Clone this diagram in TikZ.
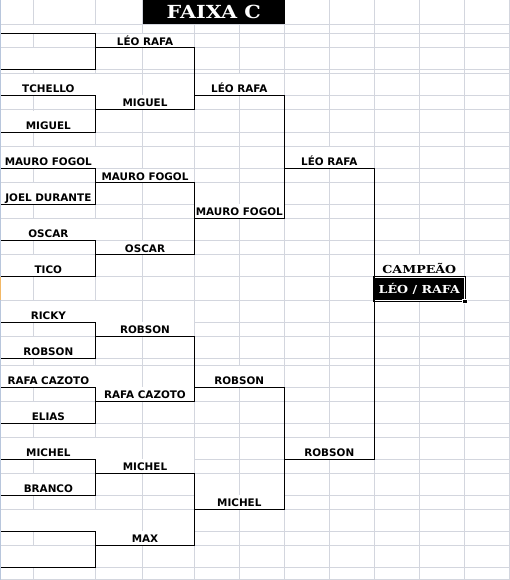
\documentclass[tikz,border=0pt]{standalone}
\usepackage{fontspec}
\newfontfamily\namefont{DejaVu Sans}
\newfontfamily\campfont[FakeStretch=1.15]{DejaVu Serif}
\usepackage{tikz}
\usetikzlibrary{positioning}
\definecolor{GridGray}  {HTML}{D3D6DE}
\definecolor{EdgeBlue}  {HTML}{B8C6DC}
\definecolor{MarkOrange}{HTML}{F2B866}

\begin{document}
\begin{tikzpicture}[x=1pt,y=-1pt,
  cell/.style={fill=white,inner sep=0pt,outer sep=0pt,anchor=south,
    text depth=2.5pt,font=\namefont\bfseries\fontsize{10.4}{12}\selectfont},
  tall/.style={text height=18.6pt},
  short/.style={text height=11.4pt},
  tiny/.style={text height=6pt},
  rA/.style={cell,minimum width=94.7pt},
  rB/.style={cell,minimum width=98.6pt},
  rC/.style={cell,minimum width=90pt},
  bracket/.style={draw=black,line width=0.8pt},
  gridline/.style={draw=GridGray,line width=0.6pt}]
  \useasboundingbox (0,0) rectangle (510,580);
  % sheet grid
  \foreach \gx in {33.3,95.7,142.7,194.3,239.3,284.3,329.3,374.3,419.3,464.3,509.3}
    \draw[gridline] (\gx,0) -- (\gx,580);
  \foreach \gy in {24.3,33.3,47.7,69.3,73.3,95,109.3,132,146.7,168.3,182.7,204,
    218,240,254.7,276,300.7,322.3,336.3,358.3,365,387.3,401,423.3,437.7,459.3,
    473.3,495,509.3,531,545.3,567.3,579.5}
    \draw[gridline] (0,\gy) -- (510,\gy);
  \draw[EdgeBlue,line width=1pt] (0.5,0) -- (0.5,580);
  \draw[MarkOrange,line width=1pt] (0.5,277) -- (0.5,300);

  \node[fill=black,text=white,inner sep=0pt,anchor=north west,
    minimum width=141.6pt,minimum height=24.3pt,
    font=\campfont\bfseries\fontsize{18}{20}\selectfont]
    (TT) at (142.7,0) {FAIXA C};

  % first round
  \node[rA,tiny] (E1) at (48.35,33.3) {};
  \node[rA,tall] (E2) at (48.35,69.3) {};
  \node[rA,tall] (TC) at (48.35,95) {TCHELLO};
  \node[rA,tall] (MI) at (48.35,132) {MIGUEL};
  \node[rA,tall] (MF) at (48.35,168.3) {MAURO FOGOL};
  \node[rA,tall] (JD) at (48.35,204) {JOEL DURANTE};
  \node[rA,tall] (OS) at (48.35,240) {OSCAR};
  \node[rA,tall] (TI) at (48.35,276) {TICO};
  \node[rA,tall] (RI) at (48.35,322.3) {RICKY};
  \node[rA,tall] (RB) at (48.35,358.3) {ROBSON};
  \node[rA,tall] (RC) at (48.35,387.3) {RAFA CAZOTO};
  \node[rA,tall] (EL) at (48.35,423.3) {ELIAS};
  \node[rA,tall] (MC) at (48.35,459.3) {MICHEL};
  \node[rA,tall] (BR) at (48.35,495) {BRANCO};
  \node[rA,tall] (E3) at (48.35,531) {};
  \node[rA,tall] (E4) at (48.35,567.3) {};

  % second round
  \node[rB,short] (LR2) at (145,47.7) {LÉO RAFA};
  \node[rB,short] (MI2) at (145,109.3) {MIGUEL};
  \node[rB,short] (MF2) at (145,182.7) {MAURO FOGOL};
  \node[rB,short] (OS2) at (145,254.7) {OSCAR};
  \node[rB,short] (RB2) at (145,336.3) {ROBSON};
  \node[rB,short] (RC2) at (145,401) {RAFA CAZOTO};
  \node[rB,short] (MC2) at (145,473.3) {MICHEL};
  \node[rB,short] (MX2) at (145,545.3) {MAX};

  % semis and final
  \node[rC,tall]  (LR3) at (239.3,95) {LÉO RAFA};
  \node[rC,short] (MF3) at (239.3,218) {MAURO FOGOL};
  \node[rC,tall]  (RB3) at (239.3,387.3) {ROBSON};
  \node[rC,short] (MC3) at (239.3,509.3) {MICHEL};
  \node[rC,tall]  (LR4) at (329.3,168.3) {LÉO RAFA};
  \node[rC,tall]  (RB4) at (329.3,459.3) {ROBSON};

  \node[rC,tall,font=\campfont\bfseries\fontsize{11}{13}\selectfont]
    (CP) at (419.3,276) {CAMPEÃO};
  \node[below=0.7pt of CP,fill=black,text=white,inner sep=0pt,
    minimum width=90pt,minimum height=23.5pt,
    draw=black,double=white,double distance=0.8pt,line width=0.9pt,
    font=\campfont\bfseries\fontsize{11}{13}\selectfont]
    (CH) {LÉO / RAFA};
  \node[fill=black,draw=white,line width=0.6pt,inner sep=0pt,
    minimum size=4.5pt] (HD) at (CH.south east) {};

  \draw[bracket] (E1.south west) -| (E2.south east) -- (E2.south west);
  \draw[bracket] (TC.south west) -| (MI.south east) -- (MI.south west);
  \draw[bracket] (MF.south west) -| (JD.south east) -- (JD.south west);
  \draw[bracket] (OS.south west) -| (TI.south east) -- (TI.south west);
  \draw[bracket] (RI.south west) -| (RB.south east) -- (RB.south west);
  \draw[bracket] (RC.south west) -| (EL.south east) -- (EL.south west);
  \draw[bracket] (MC.south west) -| (BR.south east) -- (BR.south west);
  \draw[bracket] (E3.south west) -| (E4.south east) -- (E4.south west);
  \draw[bracket] (LR2.south west) -| (MI2.south east) -- (MI2.south west);
  \draw[bracket] (MF2.south west) -| (OS2.south east) -- (OS2.south west);
  \draw[bracket] (RB2.south west) -| (RC2.south east) -- (RC2.south west);
  \draw[bracket] (MC2.south west) -| (MX2.south east) -- (MX2.south west);
  \draw[bracket] (LR3.south west) -| (MF3.south east) -- (MF3.south west);
  \draw[bracket] (RB3.south west) -| (MC3.south east) -- (MC3.south west);
  \draw[bracket] (LR4.south west) -| (RB4.south east) -- (RB4.south west);
\end{tikzpicture}
\end{document}
